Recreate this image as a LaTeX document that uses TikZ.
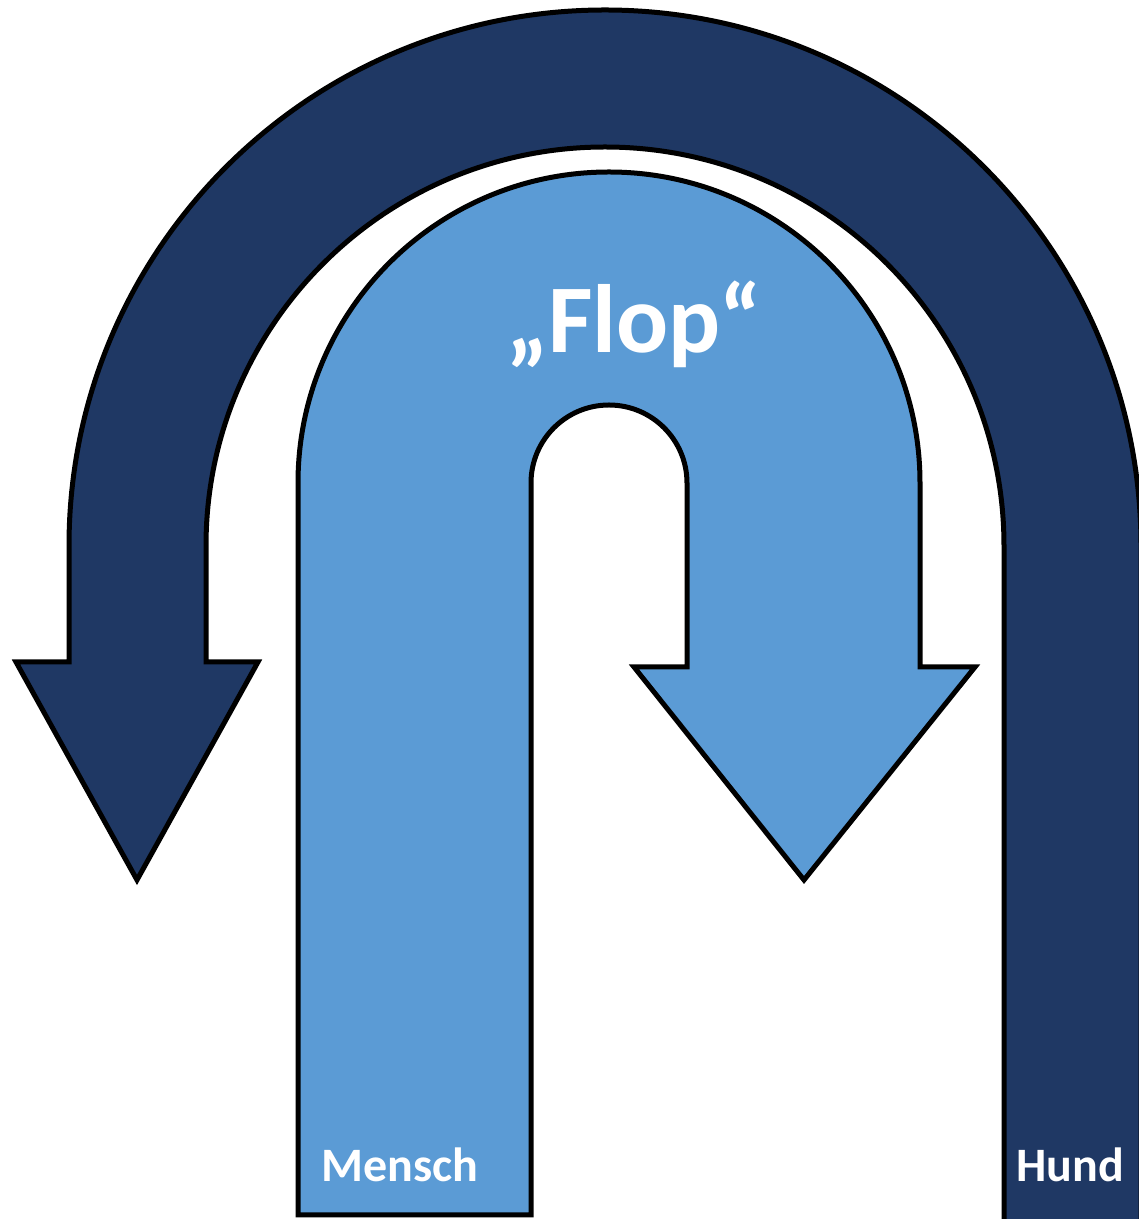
\documentclass[tikz,border=0pt]{standalone}
\usepackage{fontspec}
\newfontfamily\calib{Carlito}
\definecolor{darkblue}{HTML}{1F3864}
\definecolor{lightblue}{HTML}{5B9BD5}
\begin{document}
\begin{tikzpicture}[x=1pt,y=1pt,
  uarrow/.style={draw=black,line width=5pt,line join=miter},
  lbl/.style={text=white,font=\calib\bfseries,inner sep=0pt,anchor=base west}]
\useasboundingbox (0,0) rectangle (1139,1219);
\clip (0,0) rectangle (1139,1219);
% dark arrow (Hund)
\draw[uarrow,fill=darkblue] (1141,-20) -- (1141,673)
  arc[start angle=0,end angle=180,radius=536pt] -- (69,557) -- (16,557) -- (137,339) -- (258,557) -- (206,557) -- (206,673)
  arc[start angle=180,end angle=0,radius=399pt] -- (1004,-20) -- cycle;
% light arrow (Mensch)
\draw[uarrow,fill=lightblue] (298,4) -- (298,736)
  arc[start angle=180,end angle=0,radius=311pt] -- (920,552) -- (975,552) -- (804,339) -- (634,552) -- (687,552) -- (687,736)
  arc[start angle=0,end angle=180,radius=78pt] -- (531,4) -- cycle;
\node[lbl,font=\calib\bfseries\fontsize{97}{114}\selectfont,anchor=base] (flop) at (634,866) {„Flop“};
\node[lbl,font=\calib\bfseries\fontsize{48}{56}\selectfont] (mensch) at (321,37) {Mensch};
\node[lbl,font=\calib\bfseries\fontsize{48}{56}\selectfont] (hund) at (1016,37) {Hund};
\end{tikzpicture}
\end{document}
